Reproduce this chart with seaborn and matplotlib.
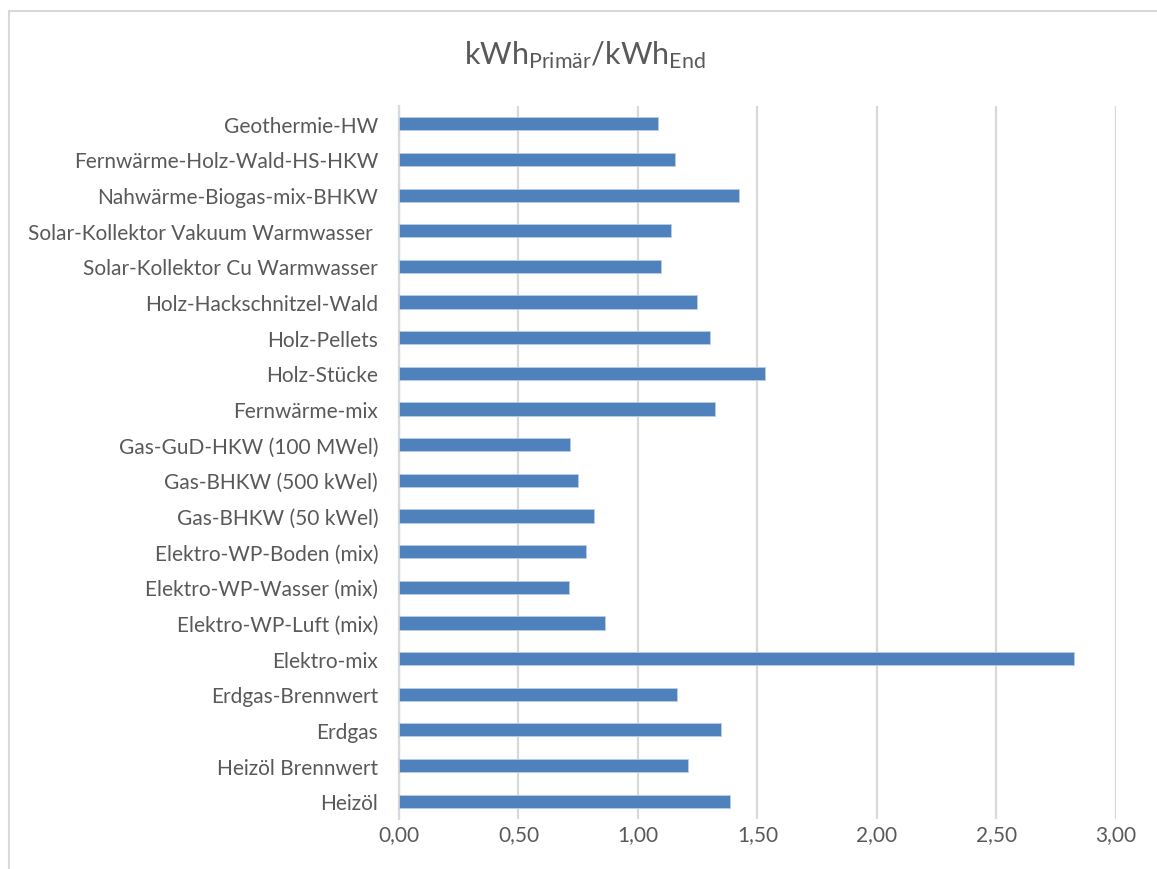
import matplotlib
matplotlib.use("Agg")
import matplotlib.pyplot as plt
from matplotlib.lines import Line2D
from matplotlib.ticker import FuncFormatter
import seaborn as sns
import pandas as pd

# Primärenergiefaktoren je Energieträger (kWh Primär / kWh End)
categories = [
    "Geothermie-HW",
    "Fernwärme-Holz-Wald-HS-HKW",
    "Nahwärme-Biogas-mix-BHKW",
    "Solar-Kollektor Vakuum Warmwasser ",
    "Solar-Kollektor Cu Warmwasser",
    "Holz-Hackschnitzel-Wald",
    "Holz-Pellets",
    "Holz-Stücke",
    "Fernwärme-mix",
    "Gas-GuD-HKW (100 MWel)",
    "Gas-BHKW (500 kWel)",
    "Gas-BHKW (50 kWel)",
    "Elektro-WP-Boden (mix)",
    "Elektro-WP-Wasser (mix)",
    "Elektro-WP-Luft (mix)",
    "Elektro-mix",
    "Erdgas-Brennwert",
    "Erdgas",
    "Heizöl Brennwert",
    "Heizöl",
]
values = [
    1.085, 1.156, 1.422, 1.137, 1.096, 1.248, 1.300, 1.530, 1.321, 0.716,
    0.748, 0.815, 0.783, 0.712, 0.861, 2.824, 1.162, 1.346, 1.208, 1.387,
]
x_ticks = [0.0, 0.5, 1.0, 1.5, 2.0, 2.5, 3.0]

df = pd.DataFrame({"Energieträger": categories, "Faktor": values})

sns.set_theme(style="white")
plt.rcParams["font.family"] = ["Lato", "DejaVu Sans"]
plt.rcParams["mathtext.default"] = "regular"

W, H = 1157, 870
fig = plt.figure(figsize=(W / 100, H / 100), dpi=100)
ax = fig.add_axes([399 / W, 1 - 820 / H, (1115.7 - 399) / W, (820 - 107) / H])

sns.barplot(
    data=df, x="Faktor", y="Energieträger", orient="h",
    color="#4F81BD", saturation=1, width=0.37,
    edgecolor="#B9CDE5", linewidth=0.6, ax=ax, zorder=3,
)

ax.set_xlim(0, 3.0)
ax.set_xticks(x_ticks)
ax.xaxis.set_major_formatter(FuncFormatter(lambda v, p: f"{v:.2f}".replace(".", ",")))
ax.grid(axis="x", color="#D9D9D9", linewidth=1.6, zorder=0)
ax.grid(axis="y", visible=False)
for s in ["top", "right", "bottom"]:
    ax.spines[s].set_visible(False)
ax.spines["left"].set_color("#D9D9D9")
ax.spines["left"].set_linewidth(1.6)
ax.set_xlabel("")
ax.set_ylabel("")
ax.tick_params(axis="both", length=0, colors="#595959", labelsize=15)
ax.tick_params(axis="y", pad=15)
ax.tick_params(axis="x", pad=4)

fig.text(585 / W, 1 - 55 / H, r"kWh$_{Primär}$/kWh$_{End}$",
         ha="center", va="center", fontsize=22, color="#595959", fontweight="normal")

# chart frame
fig.add_artist(Line2D([8.5 / W, 8.5 / W], [0, 1 - 12 / H], color="#D9D9D9", lw=1.5,
                      transform=fig.transFigure))
fig.add_artist(Line2D([8.5 / W, 1], [1 - 12 / H, 1 - 12 / H], color="#D9D9D9", lw=1.5,
                      transform=fig.transFigure))

fig.savefig("out.png", dpi=100)
